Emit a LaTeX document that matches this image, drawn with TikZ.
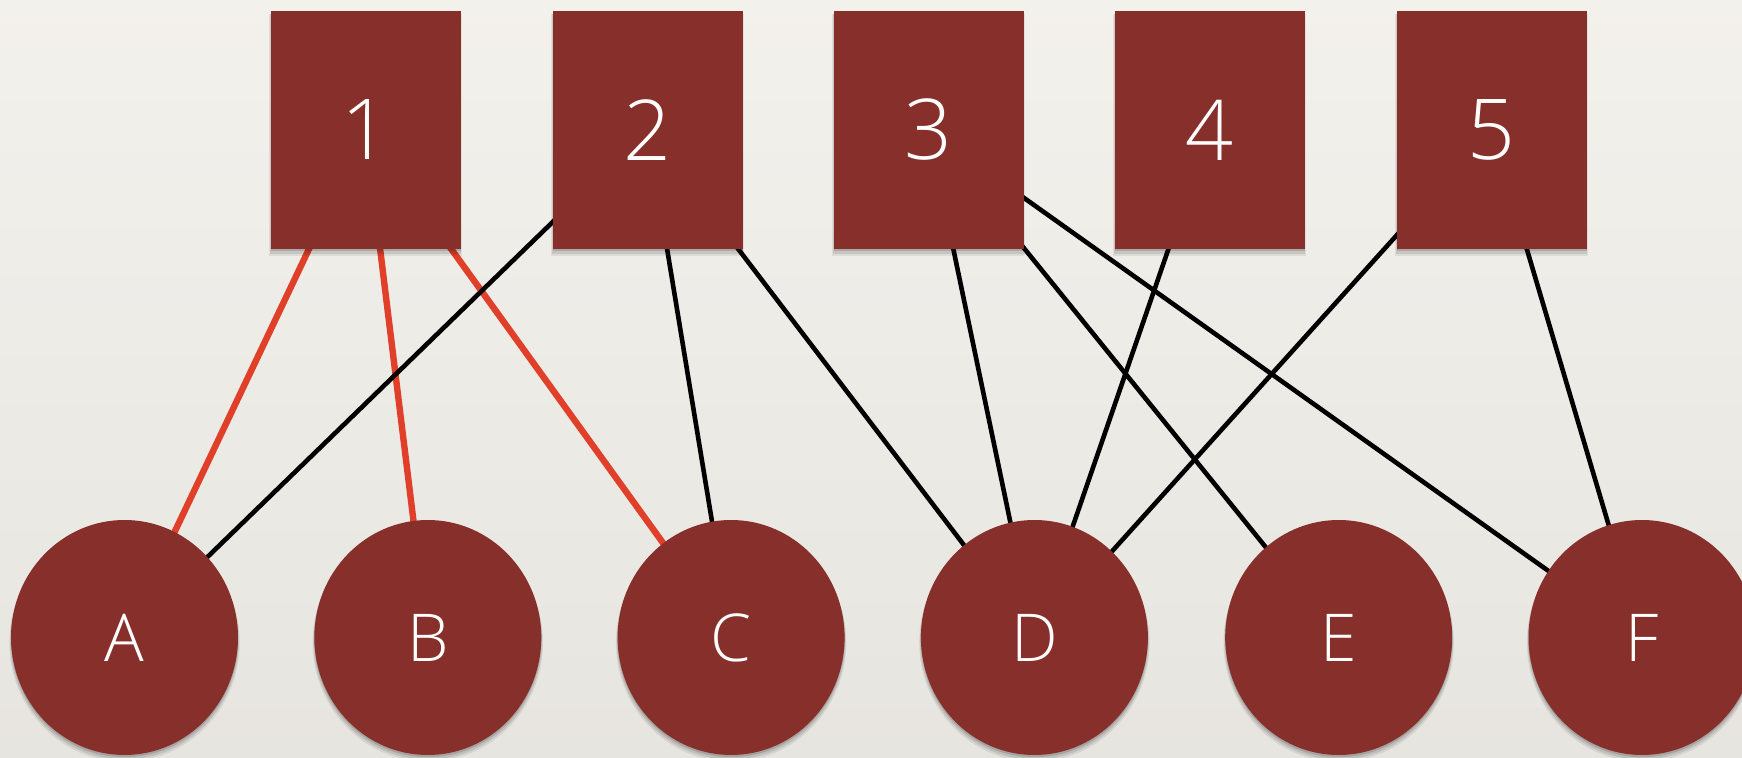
\documentclass[tikz,border=0pt]{standalone}
\usepackage{fontspec}
\setmainfont{Liberation Sans}
\newfontfamily\thinfont{Open Sans Light}
\usetikzlibrary{shadows,shapes.geometric}
\definecolor{paper}{HTML}{F3F1EC}
\definecolor{paperlow}{HTML}{E7E5E0}
\definecolor{nodefill}{HTML}{872F2A}
\definecolor{hot}{HTML}{E0402A}
\pgfdeclarelayer{paperlayer}
\pgfdeclarelayer{edgelayer}
\pgfsetlayers{paperlayer,edgelayer,main}
\begin{document}
\begin{tikzpicture}[x=0.5pt,y=-0.5pt,
  softshadow/.style={
    drop shadow={shadow xshift=0pt, shadow yshift=-2.5pt, shadow scale=1.015, opacity=0.07, fill=black},
    drop shadow={shadow xshift=0pt, shadow yshift=-1.8pt, shadow scale=1.008, opacity=0.10, fill=black},
    drop shadow={shadow xshift=0pt, shadow yshift=-1.1pt, opacity=0.14, fill=black}},
  sq/.style={rectangle, fill=nodefill, minimum width=95pt, minimum height=119pt, inner sep=0pt,
    text=white, font=\thinfont\fontsize{42}{42}\selectfont, softshadow},
  ball/.style={ellipse, fill=nodefill, minimum width=113.5pt, minimum height=117.5pt, inner sep=0pt,
    text=white, font=\thinfont\fontsize{33}{33}\selectfont, softshadow},
  link/.style={draw=black, line width=2.3pt},
  hotlink/.style={draw=hot, line width=3.2pt}]
  \useasboundingbox (0,0) rectangle (1742,758);
  % paper background, lightening towards the top in thin bands
  \begin{pgfonlayer}{paperlayer}
    \foreach \i in {0,...,29}{
      \pgfmathsetmacro{\mix}{100-100*\i/29}
      \pgfmathsetmacro{\lower}{min((\i+1)*25.27+1,758)}
      \fill[paper!\mix!paperlow] (0,{\i*25.27}) rectangle (1742,\lower);
    }
  \end{pgfonlayer}
  % upper row of squares
  \node[sq] (n1) at (365.5,130) {1};
  \node[sq] (n2) at (647.5,130) {2};
  \node[sq] (n3) at (928.5,130) {3};
  \node[sq] (n4) at (1209.5,130) {4};
  \node[sq] (n5) at (1491.5,130) {5};
  % lower row of circles
  \node[ball] (A) at (124.5,637.5) {A};
  \node[ball] (B) at (427.8,637.5) {B};
  \node[ball] (C) at (731.1,637.5) {C};
  \node[ball] (D) at (1034.4,637.5) {D};
  \node[ball] (E) at (1338.7,637.5) {E};
  \node[ball] (F) at (1642,637.5) {F};
  % connections, centre to centre, kept under the shapes
  \begin{pgfonlayer}{edgelayer}
    \draw[hotlink] (n1.center) -- (A.center);
    \draw[hotlink] (n1.center) -- (B.center);
    \draw[hotlink] (n1.center) -- (C.center);
    \draw[link] (n2.center) -- (A.center);
    \draw[link] (n2.center) -- (C.center);
    \draw[link] (n2.center) -- (D.center);
    \draw[link] (n3.center) -- (D.center);
    \draw[link] (n3.center) -- (E.center);
    \draw[link] (n3.center) -- (F.center);
    \draw[link] (n4.center) -- (D.center);
    \draw[link] (n5.center) -- (D.center);
    \draw[link] (n5.center) -- (F.center);
  \end{pgfonlayer}
\end{tikzpicture}
\end{document}
